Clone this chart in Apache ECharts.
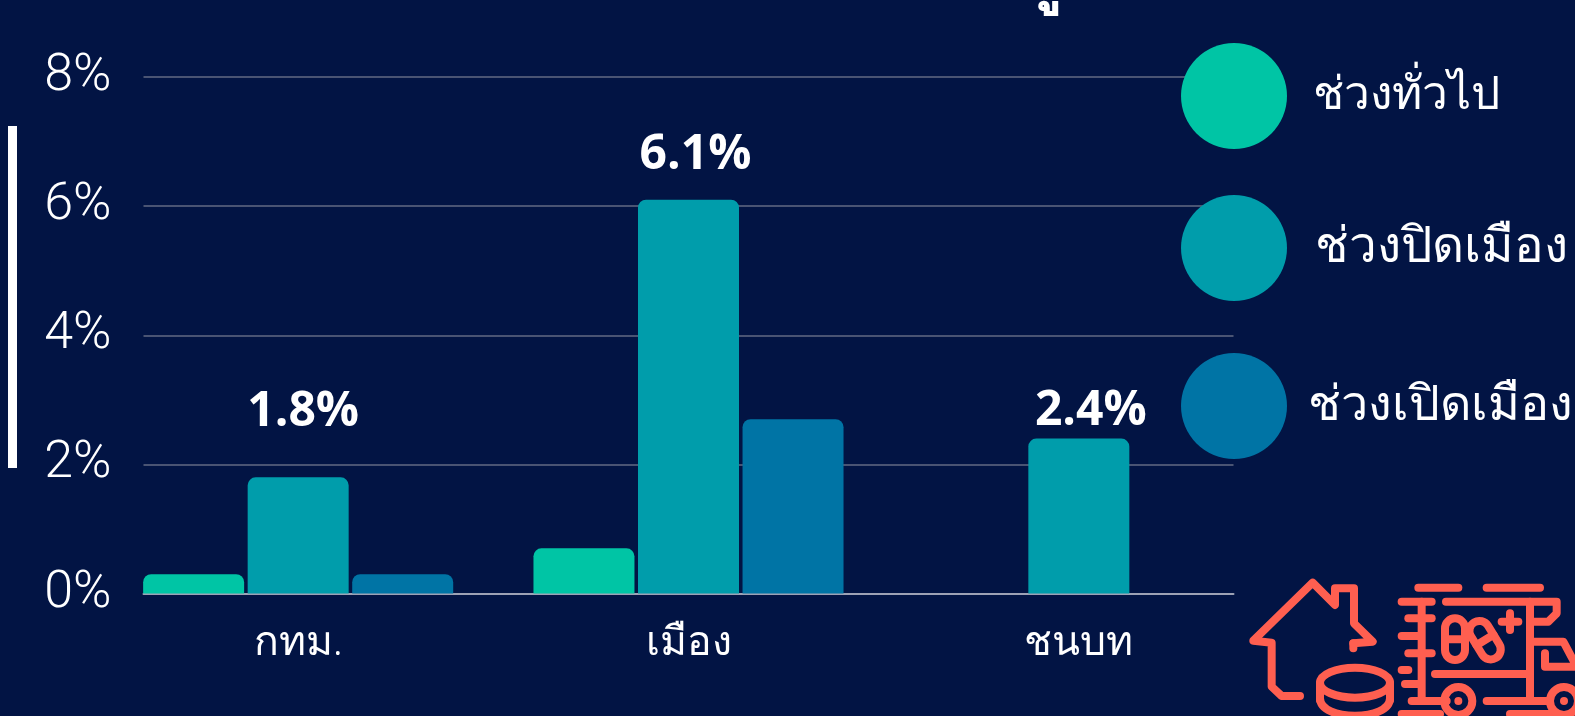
<!DOCTYPE html>
<html>
<head>
<meta charset="utf-8">
<style>
  html, body { margin: 0; padding: 0; background: #021444; }
  #chart { width: 1575px; height: 716px; }
</style>
<script src="https://cdn.jsdelivr.net/npm/echarts@6/dist/echarts.min.js"></script>
</head>
<body>
<div id="chart"></div>
<script>
var categories = ['กทม.', 'เมือง', 'ชนบท']
var seriesNames = ['ช่วงทั่วไป', 'ช่วงปิดเมือง', 'ช่วงเปิดเมือง']
var generalValues = [0.3, 0.7, null]
var lockdownValues = [1.8, 6.1, 2.4]
var reopenValues = [0.3, 2.7, null]
var yTicks = [0, 2, 4, 6, 8]

var colors = ['#00c5a5', '#009dab', '#0074a5']
var coral = '#ff5f50'
var thaiFont = '"Noto Sans", "DejaVu Sans", sans-serif'
// label placement differs per bar in the original
var labelOffsets = [[5, -36], [7, -15], [12, 2]]
// circle left, circle top, text gap, font size, text lift
var legendPos = [[1181, 43, 21, 46, 0], [1181, 195, 23, 49.5, 0], [1181, 353, 16, 48.5, 16]]

var iconLine = { stroke: coral, lineWidth: 24, lineCap: 'round', lineJoin: 'round', fill: null }

function seg (x1, y1, x2, y2) {
  return { type: 'line', shape: { x1: x1, y1: y1, x2: x2, y2: y2 }, style: iconLine }
}
function poly (points) {
  return { type: 'polyline', shape: { points: points }, style: iconLine }
}

// house, coin and truck icon, coordinates are in 3x pixels
var iconParts = [
  poly([[240, 408], [185, 408], [155, 380], [155, 248], [100, 242], [278, 68], [345, 135], [345, 85], [402, 85], [402, 190], [458, 245], [400, 250]]),
  seg(400, 250, 400, 265),
  { type: 'ellipse', shape: { cx: 405, cy: 368, rx: 105, ry: 45 }, style: iconLine },
  seg(300, 368, 300, 420),
  seg(510, 368, 510, 420),
  {
    type: 'bezierCurve',
    shape: { x1: 300, y1: 415, cpx1: 300, cpy1: 485, cpx2: 510, cpy2: 485, x2: 510, y2: 415 },
    style: iconLine
  },
  seg(595, 83, 715, 83), seg(800, 83, 960, 83),
  seg(545, 125, 635, 125),
  poly([[678, 125], [1010, 125], [1010, 160], [985, 185], [940, 185]]),
  seg(930, 125, 930, 415),
  poly([[940, 245], [1030, 245], [1070, 320], [975, 320], [975, 280]]),
  seg(565, 175, 635, 175), seg(545, 228, 600, 228), seg(565, 280, 635, 280),
  seg(545, 330, 565, 330), seg(555, 372, 600, 372),
  seg(605, 125, 605, 420),
  seg(575, 423, 680, 423), seg(800, 423, 985, 423),
  seg(545, 462, 660, 462), seg(870, 462, 1000, 462),
  seg(645, 342, 925, 342),
  { type: 'circle', shape: { cx: 715, cy: 423, r: 42 }, style: iconLine },
  { type: 'circle', shape: { cx: 715, cy: 423, r: 12 }, style: { fill: coral } },
  { type: 'circle', shape: { cx: 1032, cy: 423, r: 42 }, style: iconLine },
  { type: 'circle', shape: { cx: 1032, cy: 423, r: 12 }, style: { fill: coral } },
  { type: 'rect', shape: { x: 675, y: 175, width: 60, height: 125, r: 30 }, style: iconLine },
  seg(675, 238, 735, 238),
  {
    type: 'group', x: 795, y: 240, rotation: 0.55,
    children: [
      { type: 'rect', shape: { x: -30, y: -62, width: 60, height: 125, r: 30 }, style: iconLine },
      seg(-30, 0, 30, 0)
    ]
  },
  seg(870, 160, 870, 210), seg(845, 185, 895, 185)
]

var chart = echarts.init(document.getElementById('chart'))

chart.setOption({
  backgroundColor: '#021444',
  animation: false,
  // grid 0 carries the rules, grid 1 is wider and carries the bars
  grid: [
    { left: 143.5, right: 341.5, top: 77, bottom: 122.5 },
    { left: 103, right: 301, top: 77, bottom: 122.5 }
  ],
  legend: seriesNames.map(function (name, i) {
    return {
      data: [{ name: name, icon: 'circle' }],
      left: legendPos[i][0],
      top: legendPos[i][1],
      padding: 0,
      itemWidth: 106,
      itemHeight: 106,
      selectedMode: false,
      z: 10,
      textStyle: {
        color: '#fff',
        fontFamily: thaiFont,
        fontSize: legendPos[i][3],
        fontWeight: 300,
        padding: [0, 0, legendPos[i][4], legendPos[i][2]]
      }
    }
  }),
  xAxis: [
    {
      gridIndex: 0,
      type: 'category',
      data: categories,
      axisLine: { show: true, lineStyle: { color: '#9da2b5', width: 2 } },
      axisTick: { show: false },
      axisLabel: { show: false }
    },
    {
      gridIndex: 1,
      type: 'category',
      data: categories,
      axisLine: { show: false },
      axisTick: { show: false },
      axisLabel: { color: '#fff', fontFamily: thaiFont, fontSize: 41, fontWeight: 300, margin: 29 }
    }
  ],
  yAxis: [
    {
      gridIndex: 0,
      type: 'value',
      min: yTicks[0],
      max: yTicks[yTicks.length - 1],
      interval: 2,
      axisLine: { show: false },
      axisTick: { show: false },
      splitLine: { lineStyle: { color: '#4a5473', width: 2 } },
      axisLabel: {
        color: '#fff',
        fontFamily: 'Roboto, sans-serif',
        fontSize: 52,
        fontWeight: 300,
        margin: 32,
        formatter: '{value}%'
      }
    },
    {
      gridIndex: 1,
      type: 'value',
      min: yTicks[0],
      max: yTicks[yTicks.length - 1],
      interval: 2,
      show: false
    }
  ],
  series: [
    {
      name: seriesNames[0],
      type: 'bar',
      xAxisIndex: 1,
      yAxisIndex: 1,
      data: generalValues,
      barWidth: 101,
      barGap: '3.5%',
      itemStyle: { color: colors[0], borderRadius: [8, 8, 0, 0] }
    },
    {
      name: seriesNames[1],
      type: 'bar',
      xAxisIndex: 1,
      yAxisIndex: 1,
      barWidth: 101,
      data: lockdownValues.map(function (v, i) {
        return {
          value: v,
          label: {
            show: true,
            position: 'top',
            distance: 5,
            offset: labelOffsets[i],
            formatter: v + '%',
            color: '#fff',
            fontFamily: '"Open Sans", sans-serif',
            fontSize: 48,
            fontWeight: 700
          }
        }
      }),
      itemStyle: { color: colors[1], borderRadius: [8, 8, 0, 0] }
    },
    {
      name: seriesNames[2],
      type: 'bar',
      xAxisIndex: 1,
      yAxisIndex: 1,
      barWidth: 101,
      data: reopenValues,
      itemStyle: { color: colors[2], borderRadius: [8, 8, 0, 0] }
    }
  ],
  graphic: [
    { type: 'rect', left: 8, top: 126, shape: { width: 9, height: 342 }, style: { fill: '#fff' } },
    // tail of a heading that runs off the top of the picture
    {
      type: 'text',
      x: 1024,
      y: -50,
      style: { text: 'กู', fill: '#fff', fontFamily: thaiFont, fontSize: 62, fontWeight: 700 }
    },
    { type: 'group', x: 1220, y: 560, scaleX: 1 / 3, scaleY: 1 / 3, children: iconParts }
  ]
})
</script>
</body>
</html>
